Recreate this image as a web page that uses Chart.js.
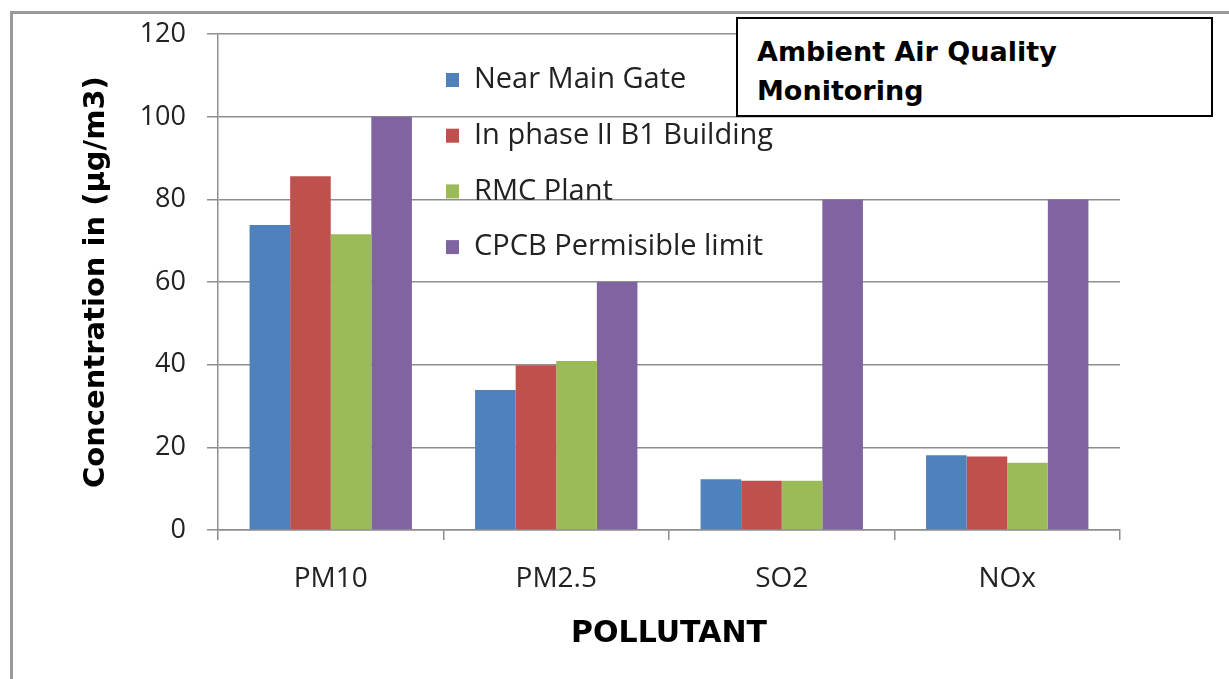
<!DOCTYPE html>
<html>
<head>
<meta charset="utf-8">
<script src="https://cdn.jsdelivr.net/npm/chart.js@4.4.0/dist/chart.umd.min.js"></script>
<style>
    html, body { margin: 0; padding: 0; background: #fff; overflow: hidden; }
    #wrap { position: relative; width: 1229px; height: 679px; overflow: hidden; }
    #frame { position: absolute; left: 10px; top: 11px; width: 1240px; height: 700px;
             border-left: 3px solid #9a9a9a; border-top: 3px solid #9a9a9a; }
    #myChart { position: absolute; left: 0; top: -3px; }
    #titleBox { position: absolute; left: 736px; top: 17px; width: 477px; height: 100px;
                border: 2px solid #000; background: #fff;
                font-family: "DejaVu Sans", sans-serif; font-weight: bold; font-size: 27px;
                line-height: 39px; color: #000; padding: 13px 0 0 19px; box-sizing: border-box; }
</style>
</head>
<body>
<div id="wrap">
    <div id="frame"></div>
    <canvas id="myChart" width="1229" height="682"></canvas>
    <div id="titleBox">Ambient Air Quality<br>Monitoring</div>
</div>
<script>
    // data
    const pollutants = ["PM10", "PM2.5", "SO2", "NOx"];
    const nearMainGate = [73.8, 33.9, 12.3, 18.1];
    const phaseIIB1 = [85.6, 39.9, 11.9, 17.8];
    const rmcPlant = [71.6, 40.9, 11.9, 16.3];
    const cpcbLimit = [100, 60, 80, 80];
    const yTicks = [0, 20, 40, 60, 80, 100, 120];

    const seriesNames = ["Near Main Gate", "In phase II B1 Building", "RMC Plant", "CPCB Permisible limit"];
    const seriesColors = ["#4F81BD", "#C0504D", "#9BBB59", "#8064A2"];
    const seriesValues = [nearMainGate, phaseIIB1, rmcPlant, cpcbLimit];

    const gridColor = "#8e8e8e";

    // legend drawn inside the plot area, over the gridlines
    const innerLegend = {
        id: "innerLegend",
        afterDatasetsDraw(chart) {
            const c = chart.ctx;
            c.save();
            c.font = "29px 'Open Sans', sans-serif";
            c.textBaseline = "middle";
            chart.data.datasets.forEach(function (ds, i) {
                const y = 83 + i * 55.7;
                c.fillStyle = ds.backgroundColor;
                c.fillRect(446, y - 7, 13, 14);
                c.fillStyle = "#222";
                c.fillText(ds.label, 474, y);
            });
            c.restore();
        }
    };

    var ctx = document.getElementById("myChart");
    var myChart = new Chart(ctx, {
        type: "bar",
        data: {
            labels: pollutants,
            datasets: seriesNames.map(function (name, i) {
                return {
                    label: name,
                    data: seriesValues[i],
                    backgroundColor: seriesColors[i],
                    borderWidth: 0,
                    categoryPercentage: 0.72,
                    barPercentage: 1.0
                };
            })
        },
        options: {
            responsive: false,
            animation: false,
            layout: { padding: { top: 28, right: 109, bottom: 0, left: 0 } },
            plugins: {
                legend: { display: false },
                tooltip: { enabled: false }
            },
            scales: {
                x: {
                    grid: { display: true, drawOnChartArea: false, offset: true, tickLength: 10, color: gridColor, lineWidth: 1.5 },
                    border: { color: gridColor, width: 1.5 },
                    ticks: { font: { family: "Open Sans", size: 28 }, color: "#222", padding: 22 },
                    title: {
                        display: true, text: "POLLUTANT", color: "#000",
                        font: { family: "DejaVu Sans", size: 30, weight: "bold" },
                        padding: { top: 0, bottom: 27 }
                    },
                    afterFit: function (s) { s.height = 149; }
                },
                y: {
                    min: 0,
                    max: 120,
                    afterBuildTicks: function (s) { s.ticks = yTicks.map(function (v) { return { value: v }; }); },
                    grid: { color: gridColor, tickLength: 11, lineWidth: 1.5 },
                    border: { color: gridColor, width: 1.5 },
                    ticks: { font: { family: "Open Sans", size: 27 }, color: "#222", padding: 21 },
                    title: {
                        display: true, text: "Concentration in (µg/m3)", color: "#000",
                        font: { family: "DejaVu Sans", size: 29, weight: "bold" },
                        padding: { top: 79, bottom: 0 }
                    },
                    afterFit: function (s) { s.width = 218; }
                }
            }
        },
        plugins: [innerLegend]
    });
</script>
</body>
</html>
